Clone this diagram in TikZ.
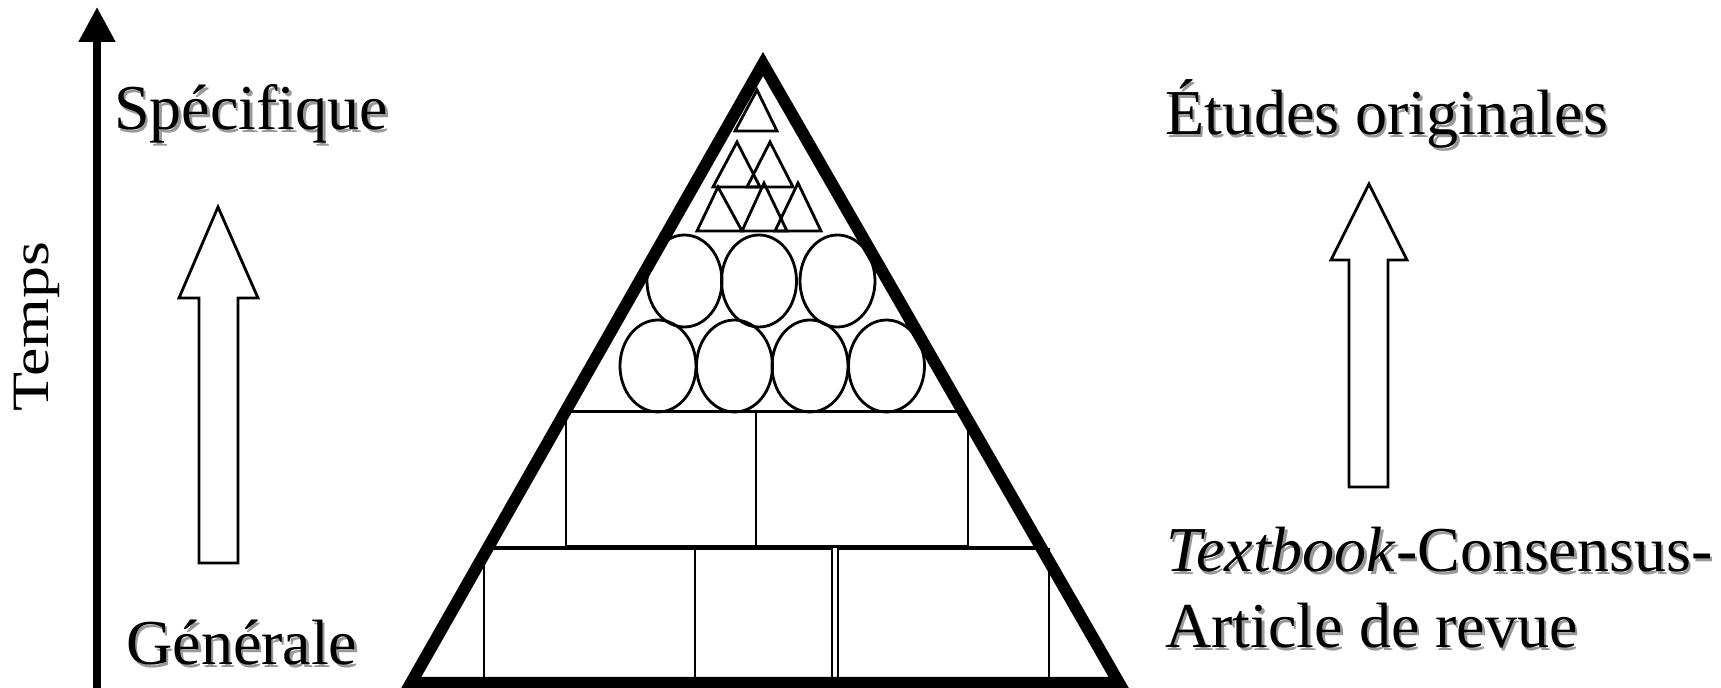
\documentclass[tikz,border=0pt]{standalone}
\usepackage{fontspec}
\setmainfont{Liberation Serif}
\usetikzlibrary{arrows.meta}
\newcommand{\shtext}[1]{\makebox[0pt][l]{\hspace{1.2pt}\raisebox{-1.2pt}{\textcolor{black!40}{#1}}}#1}
\begin{document}
\begin{tikzpicture}[x=0.5pt,y=-0.5pt,
  lbl/.style={inner sep=0pt, anchor=base west, font=\fontsize{32}{38}\selectfont},
  pyr/.style={line width=6pt, line join=miter},
  cell/.style={line width=1.2pt},
  ball/.style={line width=1.4pt},
  tri/.style={line width=1.4pt, line join=miter},
  hollow/.style={line width=1.4pt, fill=white, line join=miter},
  timeaxis/.style={line width=4pt, -{Triangle[length=17.5pt,width=17.5pt]}}]
\fill[white] (0,0) rectangle (1721,688);
\useasboundingbox (0,0) rectangle (1721,688);

% time axis
\coordinate (axb) at (97,692);
\coordinate (axt) at (97,7);
\draw[timeaxis] (axb) -- (axt);

% left hollow arrow
\draw[hollow] (199,563) -- (199,298) -- (179,298) -- (218,207) -- (258,298) -- (238,298) -- (238,563) -- cycle;
% right hollow arrow
\draw[hollow] (1349,487) -- (1349,260) -- (1331,260) -- (1369,184) -- (1407,260) -- (1388,260) -- (1388,487) -- cycle;

% pyramid corners
\coordinate (BL) at (411,683);
\coordinate (AP) at (763,64);
\coordinate (BR) at (1119,683);

% bottom row of blocks
\draw[cell] (488,547) -- (1041,547);
\draw[cell] (484,549) rectangle (695,683);
\draw[cell] (695,549) rectangle (832,683);
\draw[cell] (838,549) rectangle (1049,683);
% upper row of blocks
\draw[cell] (566,411) -- (962,411);
\draw[cell] (566,412) rectangle (756,546);
\draw[cell] (756,412) rectangle (968,546);

% circles
\foreach \cx in {684.5,759,837.5}
  \draw[ball] (\cx,281) ellipse [x radius=18.75pt, y radius=23pt];
\foreach \cx in {658,734.5,810,886.5}
  \draw[ball] (\cx,366) ellipse [x radius=19pt, y radius=23pt];

% small triangles
\draw[tri] (735,131) -- (757,90) -- (777,131) -- cycle;
\draw[tri] (713,187) -- (737,142) -- (760,187) -- cycle;
\draw[tri] (747,187) -- (770,142) -- (793,187) -- cycle;
\draw[tri] (697,231) -- (718,187) -- (742,231) -- cycle;
\draw[tri] (742,231) -- (764,183) -- (787,231) -- cycle;
\draw[tri] (775,231) -- (798,183) -- (821,231) -- cycle;

% pyramid outline
\draw[pyr] (BL) -- (AP) -- (BR) -- cycle;

% labels
\node[lbl] (spec) at (114,130) {\shtext{Spécifique}};
\node[lbl] (gen) at (126,665) {\shtext{Générale}};
\node[lbl] (etu) at (1165,135) {\shtext{Études originales}};
\node[lbl] (tb) at (1166,572) {\shtext{\textit{Textbook}-Consensus-}};
\node[lbl] (art) at (1165,648) {\shtext{Article de revue}};
\node[lbl, rotate=90] (temps) at (48,412) {\scalebox{1}[0.82]{Temps}};
\end{tikzpicture}
\end{document}
